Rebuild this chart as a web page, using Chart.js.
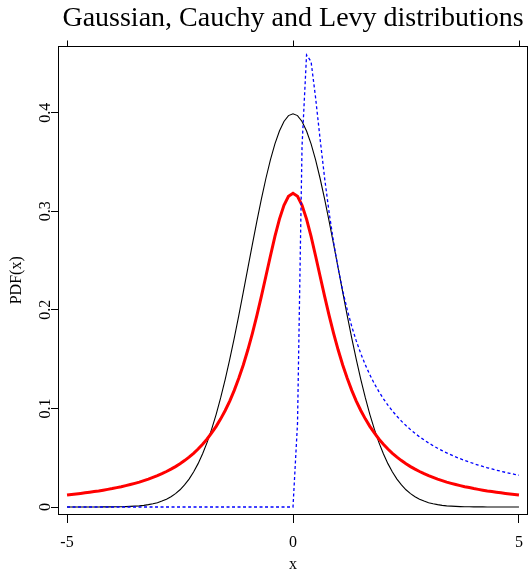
<!DOCTYPE html>
<html>
<head>
<meta charset="utf-8">
<script src="https://cdn.jsdelivr.net/npm/chart.js@4"></script>
<style>
  html, body { margin: 0; padding: 0; background: #fff; }
  #wrap { width: 529px; height: 571px; }
</style>
</head>
<body>
<div id="wrap"><canvas id="c" width="529" height="571"></canvas></div>
<script>
const chartTitle = "Gaussian, Cauchy and Levy distributions";
const xLabel = "x";
const yLabel = "PDF(x)";

const xs = [-5.0,-4.9,-4.8,-4.7,-4.6,-4.5,-4.4,-4.3,-4.2,-4.1,
  -4.0,-3.9,-3.8,-3.7,-3.6,-3.5,-3.4,-3.3,-3.2,-3.1,
  -3.0,-2.9,-2.8,-2.7,-2.6,-2.5,-2.4,-2.3,-2.2,-2.1,
  -2.0,-1.9,-1.8,-1.7,-1.6,-1.5,-1.4,-1.3,-1.2,-1.1,
  -1.0,-0.9,-0.8,-0.7,-0.6,-0.5,-0.4,-0.3,-0.2,-0.1,
  0.0,0.1,0.2,0.3,0.4,0.5,0.6,0.7,0.8,0.9,
  1.0,1.1,1.2,1.3,1.4,1.5,1.6,1.7,1.8,1.9,
  2.0,2.1,2.2,2.3,2.4,2.5,2.6,2.7,2.8,2.9,
  3.0,3.1,3.2,3.3,3.4,3.5,3.6,3.7,3.8,3.9,
  4.0,4.1,4.2,4.3,4.4,4.5,4.6,4.7,4.8,4.9,5.0];

const gaussian = [0.0000,0.0000,0.0000,0.0000,0.0000,0.0000,0.0000,0.0000,0.0001,0.0001,
  0.0001,0.0002,0.0003,0.0004,0.0006,0.0009,0.0012,0.0017,0.0024,0.0033,
  0.0044,0.0060,0.0079,0.0104,0.0136,0.0175,0.0224,0.0283,0.0355,0.0440,
  0.0540,0.0656,0.0790,0.0940,0.1109,0.1295,0.1497,0.1714,0.1942,0.2179,
  0.2420,0.2661,0.2897,0.3123,0.3332,0.3521,0.3683,0.3814,0.3910,0.3970,
  0.3989,0.3970,0.3910,0.3814,0.3683,0.3521,0.3332,0.3123,0.2897,0.2661,
  0.2420,0.2179,0.1942,0.1714,0.1497,0.1295,0.1109,0.0940,0.0790,0.0656,
  0.0540,0.0440,0.0355,0.0283,0.0224,0.0175,0.0136,0.0104,0.0079,0.0060,
  0.0044,0.0033,0.0024,0.0017,0.0012,0.0009,0.0006,0.0004,0.0003,0.0002,
  0.0001,0.0001,0.0001,0.0000,0.0000,0.0000,0.0000,0.0000,0.0000,0.0000,0.0000];

const cauchy = [0.0122,0.0128,0.0133,0.0138,0.0144,0.0150,0.0157,0.0163,0.0171,0.0179,
  0.0187,0.0197,0.0206,0.0217,0.0228,0.0240,0.0253,0.0268,0.0283,0.0300,
  0.0318,0.0338,0.0360,0.0384,0.0410,0.0439,0.0471,0.0506,0.0545,0.0588,
  0.0637,0.0690,0.0751,0.0818,0.0894,0.0979,0.1075,0.1183,0.1305,0.1440,
  0.1592,0.1759,0.1941,0.2136,0.2341,0.2546,0.2744,0.2920,0.3061,0.3152,
  0.3183,0.3152,0.3061,0.2920,0.2744,0.2546,0.2341,0.2136,0.1941,0.1759,
  0.1592,0.1440,0.1305,0.1183,0.1075,0.0979,0.0894,0.0818,0.0751,0.0690,
  0.0637,0.0588,0.0545,0.0506,0.0471,0.0439,0.0410,0.0384,0.0360,0.0338,
  0.0318,0.0300,0.0283,0.0268,0.0253,0.0240,0.0228,0.0217,0.0206,0.0197,
  0.0187,0.0179,0.0171,0.0163,0.0157,0.0150,0.0144,0.0138,0.0133,0.0128,0.0122];

const levy = [0,0,0,0,0,0,0,0,0,0,
  0,0,0,0,0,0,0,0,0,0,
  0,0,0,0,0,0,0,0,0,0,
  0,0,0,0,0,0,0,0,0,0,
  0,0,0,0,0,0,0,0,0,0,
  0,0.0850,0.3661,0.4586,0.4518,0.4151,0.3731,0.3335,0.2984,0.2681,
  0.2420,0.2195,0.2001,0.1832,0.1685,0.1556,0.1442,0.1341,0.1251,0.1171,
  0.1098,0.1033,0.0974,0.0920,0.0871,0.0826,0.0785,0.0747,0.0712,0.0680,
  0.0650,0.0622,0.0596,0.0572,0.0549,0.0528,0.0508,0.0490,0.0472,0.0456,
  0.0440,0.0425,0.0411,0.0398,0.0386,0.0374,0.0363,0.0352,0.0342,0.0332,0.0323];

const xTicks = [-5, 0, 5];
const xTickLabels = ["-5", "0", "5"];
const yTicks = [0, 0.1, 0.2, 0.3, 0.4];
const yTickLabels = ["0", "0.1", "0.2", "0.3", "0.4"];

const SERIF = "'Liberation Serif', 'Times New Roman', serif";

function pts(ys) { return xs.map((x, i) => ({ x: x, y: ys[i] })); }

const framePlugin = {
  id: 'frame',
  afterDatasetsDraw(chart) {
    const { ctx, chartArea: a, scales } = chart;
    ctx.save();
    ctx.strokeStyle = '#000';
    ctx.lineWidth = 1;
    const L = Math.round(a.left) + 0.5, R = Math.round(a.right) - 0.5;
    const T = Math.round(a.top) + 0.5, B = Math.round(a.bottom) - 0.5;
    ctx.strokeRect(L, T, R - L, B - T);
    ctx.beginPath();
    xTicks.forEach(v => {
      const px = Math.round(scales.x.getPixelForValue(v)) + 0.5;
      ctx.moveTo(px, T);
      ctx.lineTo(px, T - 6);
    });
    ctx.stroke();
    ctx.restore();
  }
};

new Chart(document.getElementById('c'), {
  type: 'line',
  data: {
    datasets: [
      { label: 'Gaussian', data: pts(gaussian), borderColor: '#000000', borderWidth: 1.1, order: 3 },
      { label: 'Cauchy', data: pts(cauchy), borderColor: '#FF0000', borderWidth: 3, order: 2 },
      { label: 'Levy', data: pts(levy), borderColor: '#0000FF', borderWidth: 1.3, borderDash: [3, 2.5], order: 1 }
    ]
  },
  options: {
    responsive: false,
    animation: false,
    events: [],
    elements: { point: { radius: 0 }, line: { tension: 0, fill: false } },
    layout: { padding: { top: 0, right: 1, left: 0, bottom: 0 } },
    plugins: {
      legend: { display: false },
      tooltip: { enabled: false },
      title: {
        display: true,
        text: chartTitle,
        fullSize: false,
        color: '#000',
        font: { family: SERIF, size: 28, weight: 'normal', lineHeight: 1.2 },
        padding: { top: 2, bottom: 10 }
      }
    },
    scales: {
      x: {
        type: 'linear',
        min: -5.2,
        max: 5.2,
        afterBuildTicks: s => { s.ticks = xTicks.map(v => ({ value: v })); },
        afterFit: s => { s.height = 56; s.paddingLeft = 0; s.paddingRight = 0; },
        grid: { drawOnChartArea: false, drawTicks: true, tickLength: 8, color: '#000', lineWidth: 1 },
        border: { display: false },
        ticks: {
          color: '#000',
          font: { family: SERIF, size: 16 },
          padding: 10,
          maxRotation: 0,
          autoSkip: false,
          callback: (v) => { const i = xTicks.indexOf(v); return i >= 0 ? xTickLabels[i] : ''; }
        },
        title: {
          display: true,
          text: xLabel,
          color: '#000',
          font: { family: SERIF, size: 16, lineHeight: 0.8 },
          padding: { top: 0, bottom: 0 }
        }
      },
      y: {
        type: 'linear',
        min: -0.0081,
        max: 0.468,
        afterBuildTicks: s => { s.ticks = yTicks.map(v => ({ value: v })); },
        afterFit: s => { s.width = 58; s.paddingTop = 0; s.paddingBottom = 0; },
        grid: { drawOnChartArea: false, drawTicks: true, tickLength: 7, color: '#000', lineWidth: 1 },
        border: { display: false },
        ticks: {
          color: '#000',
          font: { family: SERIF, size: 16 },
          padding: -5,
          minRotation: 90,
          maxRotation: 90,
          crossAlign: 'center',
          autoSkip: false,
          callback: (v) => { const i = yTicks.indexOf(v); return i >= 0 ? yTickLabels[i] : ''; }
        },
        title: {
          display: true,
          text: yLabel,
          color: '#000',
          font: { family: SERIF, size: 16, lineHeight: 1.2 },
          padding: { top: 6.7, bottom: 0 }
        }
      }
    }
  },
  plugins: [framePlugin]
});
</script>
</body>
</html>
